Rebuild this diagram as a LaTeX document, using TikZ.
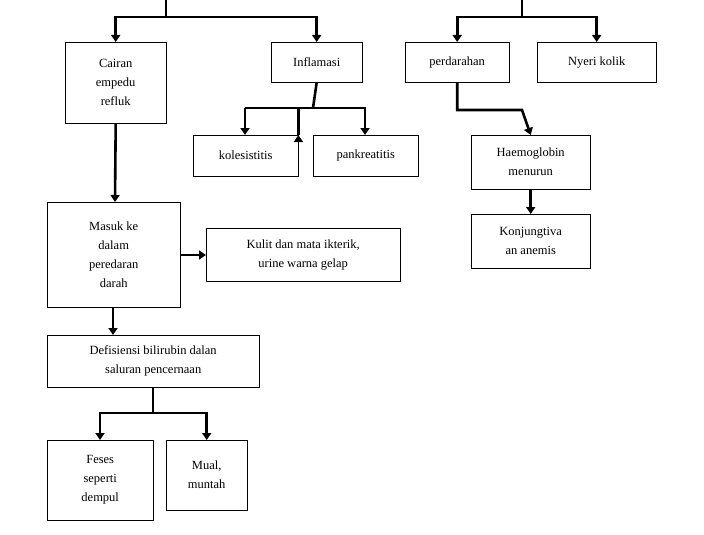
\documentclass[tikz,border=0pt]{standalone}
\usepackage{fontspec}
\setmainfont{Liberation Serif}
\usetikzlibrary{arrows.meta}
\begin{document}
\begin{tikzpicture}[x=1pt,y=-1pt,
  box/.style={draw,thin,anchor=north west,align=center,inner sep=0pt,font=\fontsize{12.5}{19}\selectfont},
  ln/.style={line width=2.6pt},
  ar/.style={line width=2.6pt,-{Triangle[length=7pt,width=9pt]}}]
\useasboundingbox (0,0) rectangle (704,535);
\newcommand\bx[6]{\node[box,minimum width=#4-#2,minimum height=#5-#3] (#1) at (#2,#3) {#6};}
\bx{cairan}{65}{42}{166}{123}{Cairan\\empedu\\refluk}
\bx{infl}{271}{42}{362}{82}{Inflamasi}
\bx{kole}{193}{135}{298}{176}{kolesistitis}
\bx{pank}{313}{135}{418}{176}{pankreatitis}
\bx{perd}{405}{42}{509}{82}{perdarahan}
\bx{nyeri}{537}{42}{656}{82}{Nyeri kolik}
\bx{hb}{471}{135}{590}{189}{Haemoglobin\\menurun}
\bx{konj}{471}{214}{590}{268}{Konjungtiva\\an anemis}
\bx{masuk}{47}{202}{180}{307}{Masuk ke\\dalam\\peredaran\\darah}
\bx{kulit}{206}{228}{400}{281}{Kulit dan mata ikterik,\\urine warna gelap}
\bx{def}{47}{335}{259}{387}{Defisiensi bilirubin dalan\\saluran pencernaan}
\bx{feses}{47}{440}{153}{520}{Feses\\seperti\\dempul}
\bx{mual}{166}{440}{247}{510}{Mual,\\muntah}
\coordinate (t1) at (166,0); \coordinate (t2) at (522,0);
\draw[ln] (t1) -- (166,17);
\draw[ar] (166,17) -| (cairan.north);
\draw[ar] (166,17) -| (infl.north);
\draw[ln] (t2) -- (522,17);
\draw[ar] (522,17) -| (perd.north);
\draw[ar] (522,17) -| (nyeri.north);
\draw[ln] (infl.south) -- (313,108);
\draw[ar] (313,108) -| (kole.north east)++(0,0);
\draw[ar] (245,108) -- (245,135);
\draw[ar] (313,108) -- (365,108) -- (365,135);
\draw[ln] (245,108) -- (313,108);
\draw[ar] (perd.south) |- (522,110) -- (hb.north);
\draw[ar] (hb.south) -- (konj.north);
\draw[ar] (cairan.south) -- (115,202);
\draw[ar] (180,255) -- (kulit.west|-180,255);
\draw[ar] (113,307) -- (113,335);
\draw[ln] (153,387) -- (153,413);
\draw[ar] (153,413) -| (100,440);
\draw[ar] (153,413) -| (mual.north);
\end{tikzpicture}
\end{document}
